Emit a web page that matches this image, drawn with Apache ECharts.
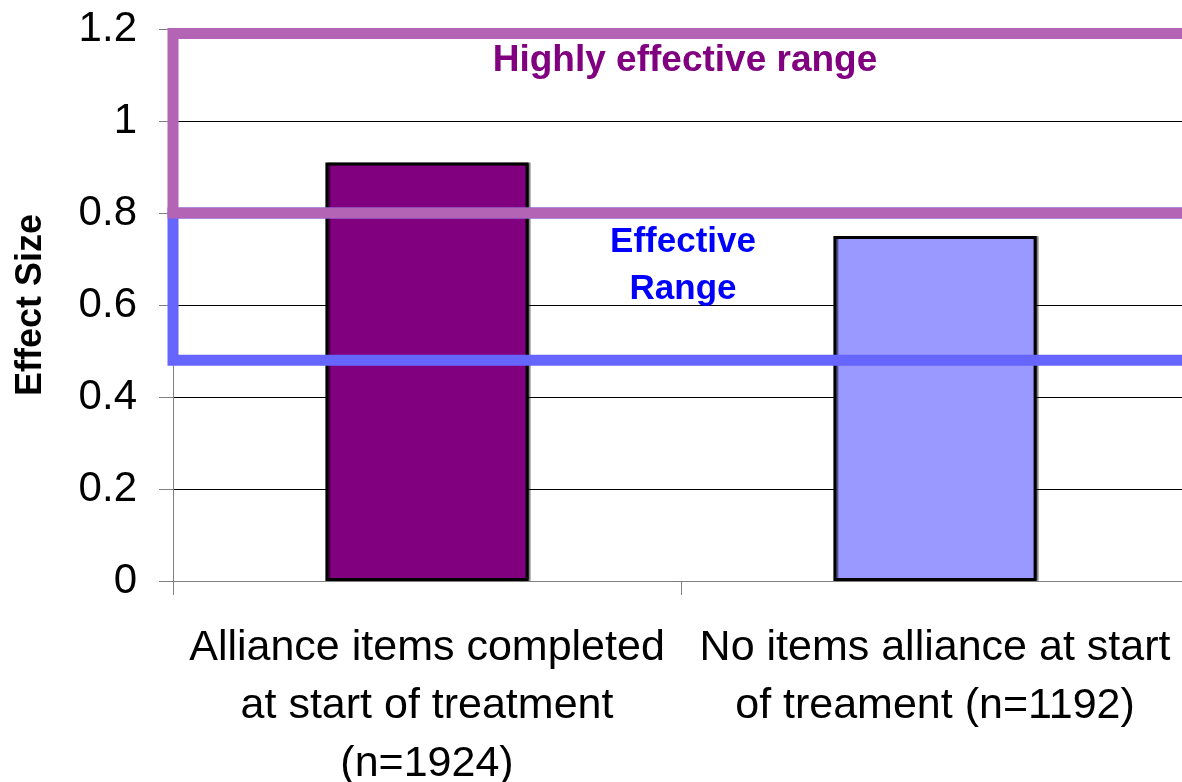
<!DOCTYPE html>
<html>
<head>
<meta charset="utf-8">
<script src="https://cdn.jsdelivr.net/npm/echarts@6/dist/echarts.min.js"></script>
<style>
  html, body { margin: 0; padding: 0; background: #fff; }
  #main { width: 1182px; height: 782px; }
</style>
</head>
<body>
<div id="main"></div>
<script>
var categories = [
  'Alliance items completed\nat start of treatment\n(n=1924)',
  'No items alliance at start\nof treament (n=1192)'
];
var effectSizes = [0.91, 0.75];
var barColors = ['#800080', '#9999ff'];
var effectiveRange = [0.48, 0.8];
var highlyEffectiveRange = [0.8, 1.19];

var font = 'Liberation Sans, Arial, sans-serif';
var chartDom = document.getElementById('main');
var myChart = echarts.init(chartDom);

var option = {
  animation: false,
  grid: { left: 173, right: -7, top: 29, bottom: 201, outerBoundsMode: 'none', containLabel: false },
  xAxis: {
    type: 'category',
    data: categories,
    axisLine: { lineStyle: { color: '#808080', width: 1 } },
    axisTick: { show: true, length: 14, lineStyle: { color: '#808080' } },
    axisLabel: {
      color: '#000',
      fontSize: 43,
      fontFamily: font,
      lineHeight: 58,
      margin: 38,
      interval: 0
    }
  },
  yAxis: {
    type: 'value',
    min: 0,
    max: 1.2,
    interval: 0.2,
    name: 'Effect Size',
    nameLocation: 'middle',
    nameRotate: 90,
    nameGap: 124,
    nameTextStyle: { color: '#000', fontSize: 36, fontWeight: 'bold', fontFamily: font },
    axisLine: { show: true, lineStyle: { color: '#808080', width: 1 } },
    axisTick: { show: true, length: 14, lineStyle: { color: '#808080' } },
    axisLabel: { color: '#000', fontSize: 42, fontFamily: font, margin: 36 },
    splitLine: { show: true, lineStyle: { color: '#000', width: 1 } }
  },
  series: [
    {
      type: 'bar',
      barWidth: '40%',
      z: 2,
      data: effectSizes.map(function (v, i) {
        return {
          value: v,
          itemStyle: {
            color: barColors[i],
            borderColor: '#000',
            borderWidth: 3,
            shadowColor: 'rgba(0,0,0,0.45)',
            shadowOffsetX: 2,
            shadowOffsetY: 0
          }
        };
      })
    },
    {
      type: 'line',
      data: [],
      z: 3,
      markArea: {
        silent: true,
        z: 3,
        itemStyle: { color: 'rgba(0,0,0,0)', borderColor: '#6666ff', borderWidth: 11 },
        label: {
          show: true,
          position: 'insideTop',
          distance: 11,
          color: '#0000ff',
          fontSize: 35,
          fontWeight: 'bold',
          fontFamily: font,
          lineHeight: 47,
          offset: [2, 0]
        },
        data: [[
          { name: 'Effective\nRange', yAxis: effectiveRange[0] },
          { yAxis: effectiveRange[1] }
        ]]
      }
    },
    {
      type: 'line',
      data: [],
      z: 4,
      markArea: {
        silent: true,
        z: 4,
        itemStyle: { color: 'rgba(0,0,0,0)', borderColor: '#b464b4', borderWidth: 11 },
        label: {
          show: true,
          position: 'insideTop',
          distance: 14,
          color: '#800080',
          fontSize: 37,
          fontWeight: 'bold',
          fontFamily: font,
          offset: [4, 0]
        },
        data: [[
          { name: 'Highly effective range', yAxis: highlyEffectiveRange[1] },
          { yAxis: highlyEffectiveRange[0] }
        ]]
      }
    }
  ]
};

myChart.setOption(option);
</script>
</body>
</html>
